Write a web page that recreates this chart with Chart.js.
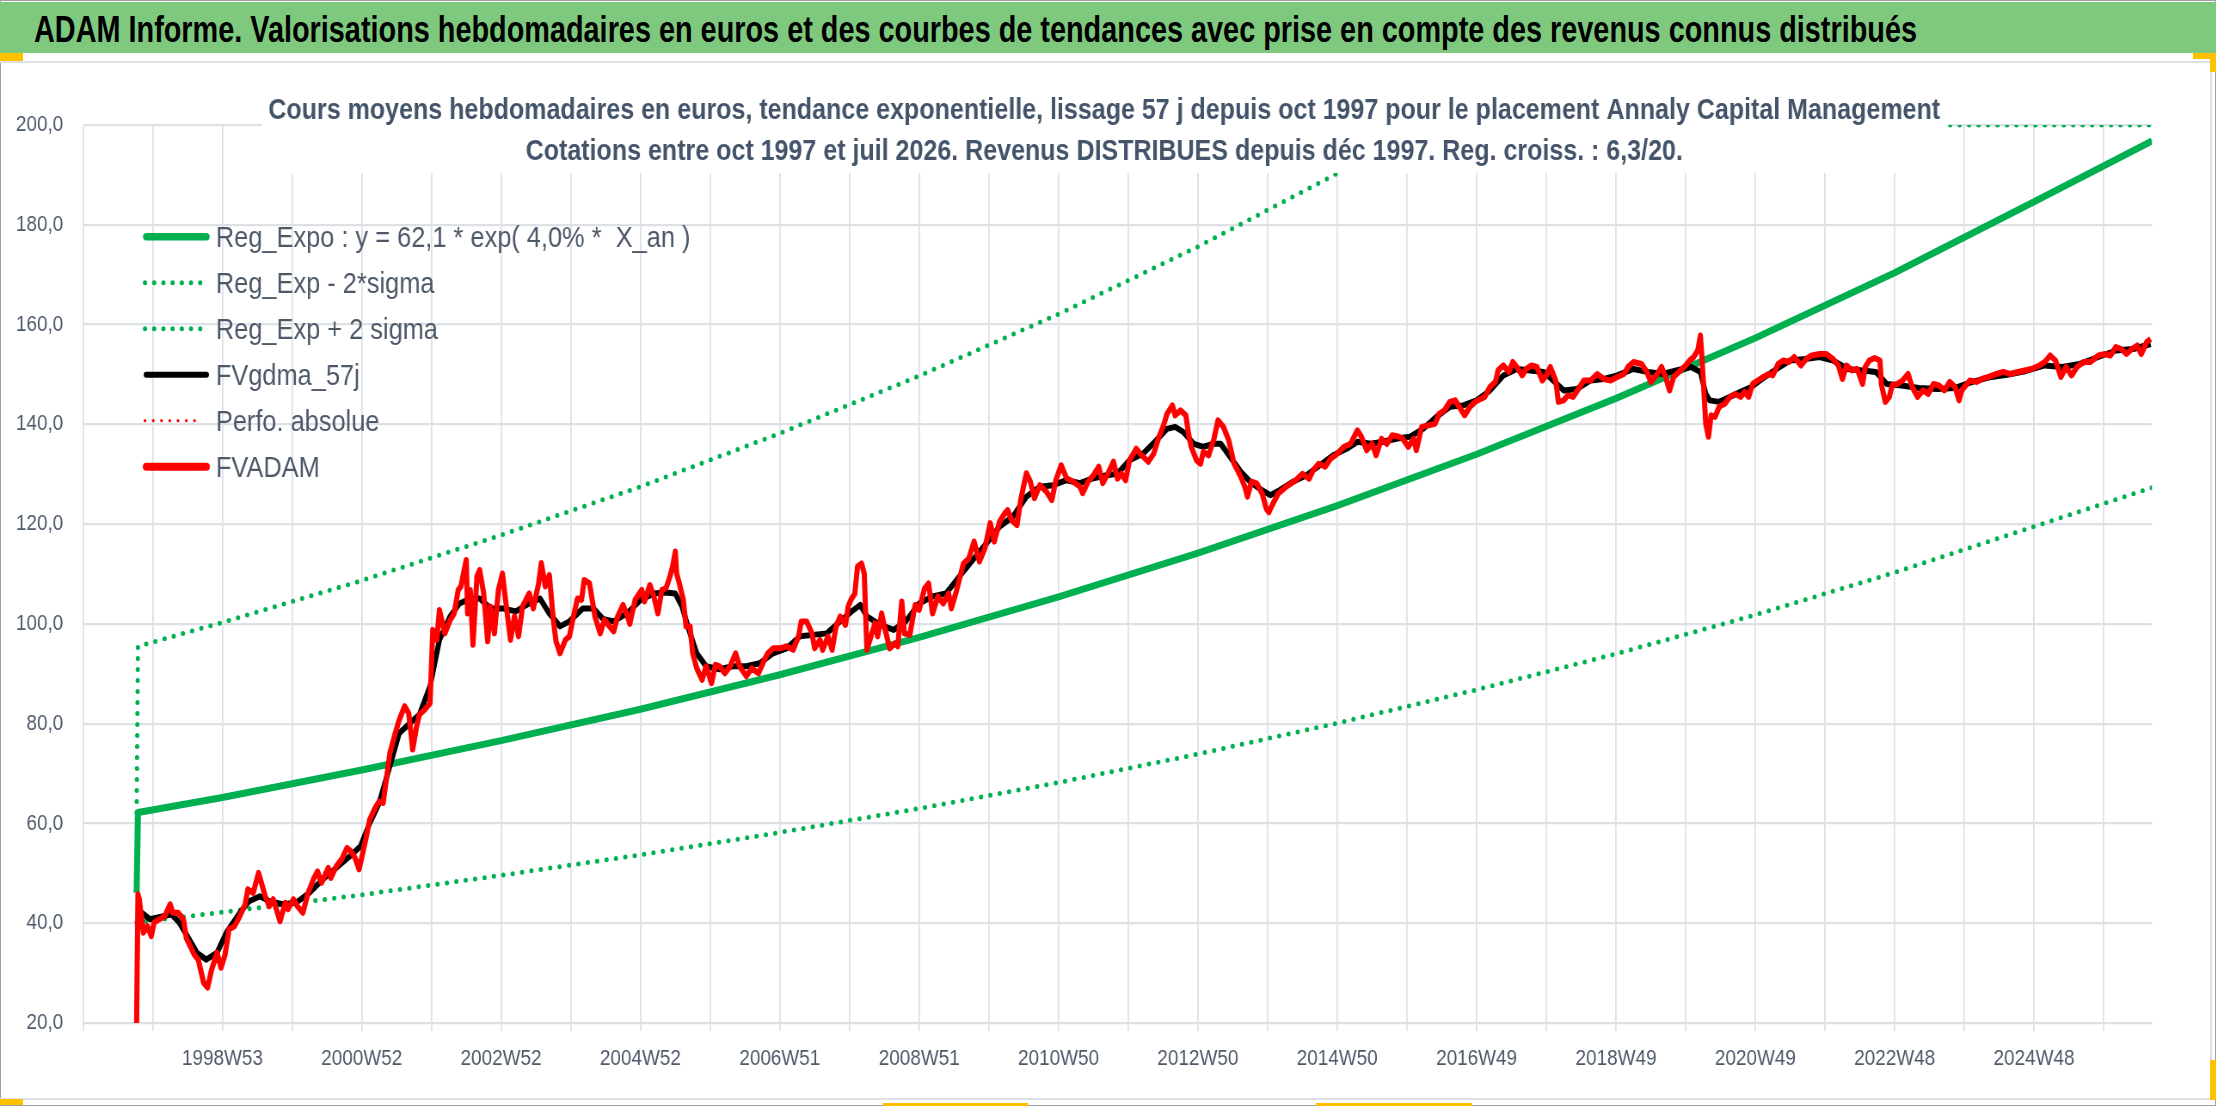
<!DOCTYPE html>
<html lang="fr">
<head>
<meta charset="utf-8">
<title>ADAM Informe - Annaly Capital Management</title>
<script src="https://cdn.jsdelivr.net/npm/chart.js@4.4.1/dist/chart.umd.min.js"></script>
<style>
  html, body { margin: 0; padding: 0; background: #fff; }
  body { width: 2216px; height: 1106px; position: relative; overflow: hidden;
         font-family: 'Liberation Sans', Arial, sans-serif; }
  #page { position: absolute; left: 0; top: 0; width: 2216px; height: 1106px;
          border: 1px solid #a0a0a0; box-sizing: border-box; }
  #banner { position: absolute; left: 0; top: 2px; width: 2216px; height: 51px; background: #7fc97f; }
  #banner span { position: absolute; left: 34px; top: 10px; font-weight: bold; font-size: 37px;
                 line-height: 36px; color: #000; white-space: nowrap; transform-origin: left top; }
  #frame { position: absolute; left: 0; top: 61px; width: 2212px; height: 1039px;
           border: 2px solid #dde1e6; border-left: none; box-sizing: border-box; }
  #squeeze { position: absolute; left: 0; top: 62px; width: 2577px; height: 1036px;
             transform: scaleX(0.86); transform-origin: left top; }
  .mark { position: absolute; background: #ffc000; }
</style>
</head>
<body>
<div id="page"></div>
<div id="banner"><span id="bannerText">ADAM Informe. Valorisations hebdomadaires en euros et des courbes de tendances avec prise en compte des revenus connus distribués</span></div>
<div id="frame"></div>
<div class="mark" style="left:0;top:53px;width:23px;height:8px"></div>
<div class="mark" style="left:2193px;top:53px;width:23px;height:6px"></div>
<div class="mark" style="left:2210px;top:53px;width:6px;height:19px"></div>
<div class="mark" style="left:2210px;top:1060px;width:6px;height:40px"></div>
<div class="mark" style="left:0;top:1099px;width:23px;height:6px"></div>
<div class="mark" style="left:883px;top:1103px;width:145px;height:3px"></div>
<div class="mark" style="left:1316px;top:1103px;width:156px;height:3px"></div>
<div id="squeeze"><canvas id="chart" width="2577" height="1036"></canvas></div>

<script>
// x = week index counted from 1997W01, one vertical grid line every 52 weeks
const xMax = 1544;
const tickWeeks = [104, 208, 312, 416, 520, 624, 728, 832, 936, 1040, 1144, 1248, 1352, 1456];
const tickLabels = ['1998W53', '2000W52', '2002W52', '2004W52', '2006W51', '2008W51', '2010W50',
  '2012W50', '2014W50', '2016W49', '2018W49', '2020W49', '2022W48', '2024W48'];

const legendLabels = [
  'Reg_Expo : y = 62,1 * exp( 4,0% *  X_an )',
  'Reg_Exp - 2*sigma',
  'Reg_Exp + 2 sigma',
  'FVgdma_57j',
  'Perfo. absolue',
  'FVADAM'
];

const subtitleLines = [
  'Cours moyens hebdomadaires en euros, tendance exponentielle, lissage 57 j depuis oct 1997 pour le placement Annaly Capital Management',
  'Cotations entre oct 1997 et juil 2026. Revenus DISTRIBUES depuis déc 1997. Reg. croiss. : 6,3/20.'
];

// Reg_Expo
const trendWeeks = [40, 41, 104, 208, 312, 416, 520, 624, 728, 832, 936, 1040, 1144, 1248, 1352, 1456, 1544];
const trendValues = [46.1, 62.2, 65.2, 70.7, 76.6, 82.9, 89.8, 97.3, 105.4, 114.2, 123.7, 134.0, 145.2, 157.3, 170.4, 184.6, 196.8];

// Reg_Exp - 2*sigma
const lowerWeeks = [40, 104, 208, 312, 416, 520, 624, 728, 832, 936, 1040, 1144, 1248, 1352, 1456, 1544];
const lowerValues = [40.2, 42.2, 45.7, 49.6, 53.7, 58.2, 63.0, 68.2, 73.9, 80.1, 86.8, 94.0, 101.8, 110.3, 119.5, 127.3];

// Reg_Exp + 2 sigma (stuck on the 200 axis top once above it)
const upperWeeks = [40, 41, 104, 208, 312, 416, 520, 624, 728, 832, 936, 1001, 1544];
const upperValues = [62.2, 95.5, 100.3, 108.7, 117.8, 127.5, 138.2, 149.7, 162.1, 175.6, 190.3, 200, 200];

// FVgdma_57j
const smoothWeeks = [42, 50, 60, 66, 72, 77, 85, 92, 100, 107, 117, 124, 132, 139, 149, 159, 169, 179, 189, 199,
  207, 214, 221, 229, 236, 244, 251, 259, 266, 274, 281, 289, 296, 304, 313, 323, 333, 341, 348, 356,
  363, 373, 381, 388, 396, 406, 416, 426, 435, 442, 447, 453, 458, 465, 475, 485, 495, 505, 515, 525,
  535, 545, 555, 565, 575, 580, 585, 595, 605, 614, 624, 634, 644, 654, 664, 674, 684, 694, 704, 714,
  724, 734, 744, 754, 764, 772, 781, 791, 801, 809, 815, 821, 829, 836, 844, 849, 856, 864, 871, 878,
  886, 893, 903, 913, 923, 933, 943, 951, 961, 970, 980, 990, 1000, 1010, 1020, 1030, 1040, 1050, 1060, 1070,
  1080, 1090, 1097, 1105, 1115, 1125, 1135, 1145, 1157, 1168, 1179, 1189, 1200, 1207, 1211, 1214, 1221, 1229, 1237, 1245,
  1253, 1264, 1274, 1285, 1296, 1306, 1317, 1328, 1338, 1346, 1357, 1370, 1384, 1397, 1410, 1424, 1437, 1450, 1464, 1477,
  1490, 1504, 1517, 1530, 1543];
const smoothValues = [42.5, 40.8, 41.4, 41.8, 40.1, 37.8, 34.1, 32.7, 34.1, 38.1, 42.1, 44.4, 45.4, 44.4, 43.8, 44.1, 46.1, 48.8, 51.1, 53.4,
  55.4, 60.1, 64.1, 71.5, 78.1, 80.1, 81.8, 87.5, 96.8, 101.5, 104.1, 105.1, 105.1, 103.1, 103.1, 102.5, 104.1, 105.1, 102.1, 99.5,
  100.5, 103.1, 103.1, 101.0, 100.5, 102.1, 104.8, 106.1, 106.3, 106.1, 103.5, 98.1, 94.1, 91.5, 90.9, 91.5, 91.5, 92.1, 94.1, 95.1,
  97.5, 97.8, 98.1, 100.5, 102.8, 103.8, 101.5, 99.8, 98.8, 100.5, 104.1, 105.5, 106.1, 109.5, 112.8, 116.1, 119.5, 121.5, 125.5, 127.5,
  127.8, 128.8, 128.2, 129.2, 129.8, 130.1, 132.8, 134.1, 136.8, 139.1, 139.5, 138.5, 136.1, 135.5, 136.1, 136.1, 133.5, 130.5, 128.5, 127.1,
  125.8, 126.8, 128.5, 129.8, 131.8, 133.8, 135.1, 136.5, 136.1, 136.5, 137.1, 137.5, 139.1, 141.5, 143.5, 143.8, 144.8, 146.8, 149.8, 151.1,
  150.8, 150.5, 148.8, 146.8, 147.1, 148.8, 149.1, 149.8, 151.1, 150.5, 150.1, 150.8, 151.5, 150.5, 146.1, 144.8, 144.5, 145.5, 146.5, 147.5,
  149.1, 151.1, 152.8, 153.1, 153.5, 152.8, 151.1, 150.8, 150.5, 148.1, 147.8, 147.3, 147.1, 147.3, 148.5, 149.5, 150.0, 150.7, 151.8, 151.5,
  152.1, 153.5, 154.8, 155.1, 156.1];

// FVADAM
const adamWeeks = [40, 41, 42, 45, 48, 51, 53, 57, 61, 65, 67, 71, 75, 77, 80, 83, 86, 90, 93, 96,
  100, 103, 106, 109, 113, 117, 121, 123, 127, 131, 136, 139, 142, 147, 151, 153, 157, 160, 164, 168,
  172, 175, 178, 183, 185, 189, 193, 197, 200, 203, 206, 209, 211, 214, 218, 221, 224, 226, 229, 233,
  236, 240, 243, 245, 246, 249, 251, 255, 259, 260, 261, 264, 266, 270, 274, 277, 280, 282, 286, 287,
  289, 291, 294, 296, 299, 302, 304, 307, 310, 313, 315, 319, 322, 325, 328, 331, 333, 336, 340, 342,
  345, 348, 351, 353, 356, 360, 363, 366, 369, 372, 374, 378, 382, 386,
  389, 396, 399, 403, 406, 408, 412, 417, 419, 423, 426, 429, 432, 435, 438, 440, 442, 443, 445, 448,
  450, 453, 455, 458, 462, 465, 469, 472, 475, 479, 483, 487, 490, 495, 499, 504, 508, 511, 515, 520,
  525, 530, 534, 536, 540, 544, 546, 550, 552, 556, 559, 562, 565, 569, 571, 573, 576, 578, 581, 583,
  585, 588, 591, 593, 596, 598, 602, 606, 608, 611, 613, 617, 621, 624, 628, 631, 634, 638, 642, 646,
  648, 652, 657, 661, 665, 669, 673, 677, 680, 684, 688, 690, 693, 697, 700, 704, 707, 710, 714, 719,
  723, 726, 730, 734, 739, 744, 746, 750, 754, 758, 761, 765, 769,
  772, 775, 778, 781, 786, 790, 795, 799, 803, 806, 809, 813, 815, 819, 823, 825, 827, 831, 834, 836,
  840, 844, 847, 851, 855, 859, 864, 867, 869, 872, 876, 880, 883, 885, 888, 892, 898, 905, 910, 915,
  918, 922, 927, 931, 936, 941, 946, 951, 954, 958, 962, 965, 969, 973, 977, 982, 985, 989, 993, 995,
  999, 1004, 1009, 1012, 1016, 1020, 1024, 1028, 1031, 1035, 1039, 1043, 1046, 1050, 1054, 1056, 1060, 1064, 1067, 1070,
  1074, 1077, 1081, 1085, 1089, 1092, 1095, 1099, 1101, 1105, 1108, 1112, 1116, 1120, 1125, 1130, 1135, 1140, 1145, 1150,
  1153,
  1157, 1163, 1167, 1170, 1174, 1178, 1181, 1184, 1187, 1191, 1195, 1199, 1202, 1205, 1207, 1208, 1211, 1213, 1215, 1218,
  1221, 1225, 1229, 1233, 1237, 1240, 1243, 1246, 1250, 1254, 1258, 1261, 1265, 1269, 1273, 1277, 1282, 1286, 1290, 1296,
  1301, 1306, 1310, 1313, 1316, 1320, 1324, 1328, 1330, 1333, 1337, 1341, 1342, 1345, 1348, 1350, 1354, 1358, 1362, 1365,
  1369, 1373, 1377, 1381, 1385, 1389, 1393, 1397, 1400, 1402, 1408, 1413, 1417, 1422, 1428, 1433, 1438, 1444, 1449, 1454,
  1460, 1464, 1468, 1472, 1476, 1480, 1484, 1488, 1493, 1498, 1504, 1509, 1513, 1517, 1521, 1525, 1529, 1533, 1536, 1540,
  1543];
const adamValues = [20, 45.8, 44.8, 38.1, 39.4, 37.4, 40.1, 40.8, 41.4, 43.8, 42.1, 42.1, 40.8, 37.1, 35.4, 33.7, 32.7, 28.1, 27.1, 30.7,
  34.1, 31.1, 33.7, 38.8, 39.4, 41.4, 43.8, 46.8, 46.1, 50.1, 45.4, 43.4, 44.8, 40.4, 44.1, 42.8, 44.8, 43.4, 42.1, 46.1,
  48.8, 50.4, 48.1, 51.1, 49.1, 51.4, 52.8, 55.1, 54.4, 53.1, 50.8, 54.4, 56.8, 60.8, 63.1, 64.4, 64.1, 68.1, 74.1, 78.1,
  80.8, 83.5, 82.1, 77.5, 74.8, 79.5, 81.8, 82.8, 84.1, 91.5, 98.8, 96.8, 102.8, 98.1, 100.8, 102.1, 106.8, 107.5, 112.8, 102.1,
  106.8, 95.8, 109.5, 110.8, 106.1, 96.5, 103.5, 98.1, 106.8, 110.1, 105.5, 96.8, 101.5, 97.5, 103.5, 105.1, 106.1, 103.1, 108.1, 112.2,
  107.5, 109.8, 100.8, 96.5, 94.1, 96.8, 97.5, 101.5, 105.1, 104.8, 108.8, 108.1, 101.5, 98.1,
  100.8, 98.5, 101.5, 103.8, 101.8, 100.0, 104.8, 106.8, 104.5, 107.8, 105.5, 102.1, 106.8, 107.1, 109.5, 111.5, 114.5, 110.1, 108.1, 104.8,
  99.5, 99.5, 94.1, 91.1, 88.8, 91.5, 88.1, 91.8, 91.5, 90.1, 91.5, 94.1, 91.5, 89.5, 91.1, 90.1, 92.5, 94.1, 95.1, 95.1,
  95.5, 94.8, 97.5, 100.5, 100.5, 98.1, 95.1, 96.8, 94.8, 97.5, 94.8, 99.5, 101.5, 99.8, 103.5, 104.8, 106.1, 111.5, 112.1, 110.1,
  94.8, 97.5, 100.1, 97.5, 102.1, 99.5, 95.1, 96.1, 95.5, 104.5, 98.1, 97.8, 103.8, 102.8, 107.1, 108.1, 102.1, 105.5, 104.1, 106.1,
  103.1, 106.8, 112.1, 113.1, 116.5, 112.5, 115.1, 120.2, 116.5, 120.5, 122.2, 122.8, 120.8, 119.8, 125.2, 130.2, 128.5, 125.2, 127.8, 126.5,
  124.8, 128.8, 131.8, 129.2, 128.5, 127.5, 126.2, 128.5, 129.8, 131.5, 128.2, 130.2, 132.5,
  129.1, 130.1, 128.8, 132.8, 135.1, 133.8, 132.5, 134.1, 137.5, 139.5, 142.1, 143.8, 141.8, 142.8, 141.8, 138.1, 135.5, 132.8, 132.1, 134.5,
  133.8, 137.1, 140.8, 139.5, 136.8, 132.1, 129.5, 127.5, 125.5, 128.5, 128.1, 126.1, 123.1, 122.4, 124.1, 126.1, 127.5, 128.8, 130.1, 129.1,
  130.8, 132.1, 131.5, 133.1, 134.1, 135.5, 136.1, 138.8, 137.5, 134.8, 136.1, 133.8, 137.1, 136.1, 137.8, 137.5, 137.1, 135.5, 137.1, 134.8,
  139.5, 139.8, 140.1, 142.1, 142.8, 144.5, 144.8, 143.1, 141.8, 143.5, 144.5, 145.1, 145.5, 147.5, 148.5, 150.8, 151.8, 150.5, 152.5, 151.5,
  149.8, 151.1, 151.8, 151.5, 148.8, 149.8, 151.5, 148.8, 144.5, 144.8, 145.8, 145.5, 147.1, 148.8, 148.8, 150.1, 149.1, 148.8, 149.5, 150.1,
  151.5,
  152.5, 152.1, 150.5, 148.5, 149.8, 151.5, 149.5, 146.8, 149.5, 150.5, 151.5, 152.8, 153.5, 154.8, 157.8, 154.1, 140.1, 137.5, 141.8, 141.5,
  143.5, 144.1, 145.5, 146.1, 145.5, 146.5, 145.5, 148.1, 148.8, 149.5, 150.1, 149.8, 152.1, 152.8, 152.5, 153.5, 151.8, 153.1, 153.8, 154.1,
  154.1, 153.1, 151.8, 149.1, 151.8, 150.8, 151.1, 148.1, 151.5, 152.8, 153.3, 152.8, 148.1, 144.5, 145.5, 147.8, 148.1, 148.8, 150.1, 147.5,
  145.5, 146.8, 146.1, 148.1, 147.8, 146.8, 148.5, 147.5, 144.8, 146.8, 148.8, 148.5, 149.1, 149.5, 150.1, 150.5, 150.1, 150.5, 150.8, 151.1,
  151.8, 152.5, 153.8, 152.8, 149.5, 151.5, 149.8, 151.5, 152.5, 152.5, 153.8, 154.1, 153.8, 155.5, 155.1, 154.1, 155.1, 155.8, 154.1, 156.5,
  157.1];

const FONT = "'Liberation Sans', Arial, sans-serif";
const GREEN = '#00b050';
const RED = '#ff0000';
const GRID = '#dde1e6';
const TEXT = '#4d5869';

const pts = (weeks, values) => weeks.map((w, i) => ({ x: w, y: values[i] }));
const tickText = {};
tickWeeks.forEach((w, i) => { tickText[w] = tickLabels[i]; });

// fit the banner title to its width in the picture
function fitBanner() {
  const el = document.getElementById('bannerText');
  el.style.transform = 'none';
  el.style.transform = 'scaleX(' + (1883 / el.offsetWidth) + ')';
}
fitBanner();

// legend sample styles (drawn inside the plot area, top-left)
const legendStyles = [
  { color: GREEN, width: 7.5, dash: [] },
  { color: GREEN, width: 5, dash: [0, 10.7] },
  { color: GREEN, width: 5, dash: [0, 10.7] },
  { color: '#000', width: 6, dash: [] },
  { color: RED, width: 3.2, dash: [0, 9.6] },
  { color: RED, width: 8, dash: [] }
];

const overlay = {
  id: 'overlay',
  afterDraw(chart) {
    const ctx = chart.ctx;

    // subtitle on a white box over the top of the plot
    ctx.save();
    ctx.fillStyle = '#fff';
    ctx.fillRect(305, 18, 1960, 93);
    ctx.font = 'bold 30px ' + FONT;
    ctx.fillStyle = '#44546a';
    ctx.textAlign = 'center';
    ctx.textBaseline = 'alphabetic';
    const k = 1944 / ctx.measureText(subtitleLines[0]).width;
    ctx.translate(1284, 0);
    ctx.scale(k, 1);
    ctx.fillText(subtitleLines[0], 0, 57);
    ctx.fillText(subtitleLines[1], 0, 98);
    ctx.restore();

    // legend
    ctx.save();
    ctx.font = '29.5px ' + FONT;
    ctx.textAlign = 'left';
    ctx.textBaseline = 'alphabetic';
    legendLabels.forEach((label, i) => {
      const y = 174.7 + i * 46;
      const st = legendStyles[i];
      ctx.beginPath();
      ctx.strokeStyle = st.color;
      ctx.lineWidth = st.width;
      ctx.setLineDash(st.dash);
      ctx.lineCap = 'round';
      if (st.dash.length) {
        ctx.moveTo(168.6, y);
        ctx.lineTo(234, y);
      } else {
        ctx.moveTo(170, y);
        ctx.lineTo(240, y);
      }
      ctx.stroke();
      ctx.setLineDash([]);
      ctx.fillStyle = TEXT;
      ctx.fillText(label, 251, y + 10.5);
    });
    ctx.restore();
  }
};

const lineStyle = { pointRadius: 0, pointHoverRadius: 0, tension: 0, fill: false, borderJoinStyle: 'round' };

new Chart(document.getElementById('chart'), {
  type: 'line',
  data: {
    datasets: [
      { ...lineStyle, label: legendLabels[0], data: pts(trendWeeks, trendValues),
        borderColor: GREEN, borderWidth: 7, order: 5 },
      { ...lineStyle, label: legendLabels[1], data: pts(lowerWeeks, lowerValues),
        borderColor: GREEN, borderWidth: 5, borderDash: [0, 11], borderCapStyle: 'round', order: 4 },
      { ...lineStyle, label: legendLabels[2], data: pts(upperWeeks, upperValues),
        borderColor: GREEN, borderWidth: 5, borderDash: [0, 11], borderCapStyle: 'round', order: 3 },
      { ...lineStyle, label: legendLabels[3], data: pts(smoothWeeks, smoothValues),
        borderColor: '#000', borderWidth: 6, order: 2 },
      { ...lineStyle, label: legendLabels[4], data: [],
        borderColor: RED, borderWidth: 3, borderDash: [0, 9], borderCapStyle: 'round', order: 1 },
      { ...lineStyle, label: legendLabels[5], data: pts(adamWeeks, adamValues),
        borderColor: RED, borderWidth: 6, order: 0 }
    ]
  },
  options: {
    responsive: false,
    animation: false,
    devicePixelRatio: 1,
    events: [],
    layout: { padding: { top: 63, right: 74.7, bottom: 0, left: 0 } },
    plugins: {
      legend: { display: false },
      tooltip: { enabled: false },
      title: { display: false }
    },
    scales: {
      x: {
        type: 'linear',
        min: 0,
        max: xMax,
        afterBuildTicks: scale => {
          const ticks = [];
          for (let w = 0; w <= xMax; w += 52) ticks.push({ value: w });
          scale.ticks = ticks;
        },
        afterFit: scale => { scale.height = 75; },
        grid: { color: GRID, lineWidth: 1.8, drawTicks: true, tickLength: 8 },
        border: { display: false },
        ticks: {
          autoSkip: false,
          maxRotation: 0,
          padding: 15,
          color: TEXT,
          font: { family: FONT, size: 22 },
          callback: value => tickText[value] || ''
        }
      },
      y: {
        min: 20,
        max: 200,
        afterFit: scale => { scale.width = 96.5; },
        grid: { color: GRID, lineWidth: 2.2, drawTicks: false },
        border: { display: false },
        ticks: {
          stepSize: 20,
          padding: 23,
          color: TEXT,
          font: { family: FONT, size: 22 },
          callback: value => value.toFixed(1).replace('.', ',')
        }
      }
    }
  },
  plugins: [overlay]
});

if (document.fonts && document.fonts.ready) document.fonts.ready.then(fitBanner);
</script>
</body>
</html>
